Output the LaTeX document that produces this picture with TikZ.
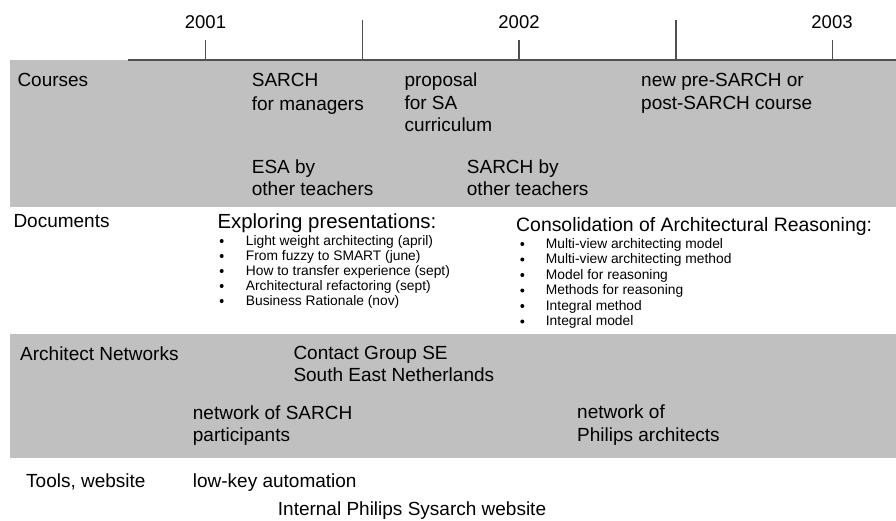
\documentclass[tikz,border=0pt]{standalone}
\usepackage{fontspec}
\setmainfont{Liberation Sans}
\usepackage{xcolor}
\usetikzlibrary{positioning}
\definecolor{lanegray}{HTML}{C0C0C0}
\definecolor{axisgray}{HTML}{505050}

\begin{document}
\begin{tikzpicture}[x=1pt, y=-1pt,
    axis/.style={draw=axisgray, line width=1.2pt},
    txt/.style={anchor=base west, inner sep=0pt, align=left, font=\fontsize{19}{22.5}\selectfont},
    head/.style={anchor=base west, inner sep=0pt, font=\fontsize{20.4}{24}\selectfont},
    item/.style={anchor=base west, inner sep=0pt, font=\fontsize{13.8}{15}\selectfont},
    year/.style={inner sep=0pt, font=\fontsize{18.5}{20}\selectfont}]
    \useasboundingbox (0,0) rectangle (896,520);

    % Lanes
    \fill[lanegray] (10,60) rectangle (896,206.7);
    \fill[lanegray] (10,334) rectangle (896,458);

    % Time axis
    \coordinate (tstart) at (127.7,60);
    \coordinate (tend) at (896,60);
    \draw[axis] (tstart) -- (tend);
    \foreach \x/\h in {205.7/40, 362.3/20, 519/40, 676/20, 832.3/40}
        \draw[axis] (\x,60) -- (\x,\h);
    \node[year] (y2001) at (205.5,21.7) {2001};
    \node[year] (y2002) at (519,21.7) {2002};
    \node[year] (y2003) at (832,21.7) {2003};

    % Courses (multi-line nodes sit on their last baseline)
    \node[txt] (courses) at (17.3,86.3) {Courses};
    \node[txt, font=\fontsize{19}{23.3}\selectfont] (mgr) at (251.7,110) {SARCH\\for managers};
    \node[txt, font=\fontsize{19}{22.4}\selectfont] (proposal) at (404.3,131.7) {proposal\\for SA\\curriculum};
    \node[txt, font=\fontsize{19}{23}\selectfont] (newcourse) at (641,109.3) {new pre-SARCH or\\post-SARCH course};
    \node[txt, font=\fontsize{19}{21.7}\selectfont] (esa) at (251.7,195) {ESA by\\other teachers};
    \node[txt, font=\fontsize{19}{21.7}\selectfont] (sarchby) at (466.7,195) {SARCH by\\other teachers};

    % Documents
    \node[txt] (docs) at (13.3,227.3) {Documents};
    \node[head] (explore) at (217.3,228.3) {Exploring presentations:};
    \foreach \t [count=\i] in {Light weight architecting (april), From fuzzy to SMART (june),
        How to transfer experience (sept), Architectural refactoring (sept), Business Rationale (nov)} {
        \node[item] (ex\i) at (245.7,{230+15*\i}) {\t};
        \fill (221.7,{226+15*\i}) circle (2);
    }
    \node[head, font=\fontsize{19.4}{24}\selectfont] (consol) at (516,231.7) {Consolidation of Architectural Reasoning:};
    \foreach \t [count=\i] in {Multi-view architecting model, Multi-view architecting method,
        Model for reasoning, Methods for reasoning, Integral method, Integral model} {
        \node[item] (co\i) at (545.7,{232.5+15.5*\i}) {\t};
        \fill (522.3,{228.5+15.5*\i}) circle (2);
    }

    % Architect Networks
    \node[txt] (networks) at (20,360) {Architect Networks};
    \node[txt, font=\fontsize{19}{21.5}\selectfont] (contact) at (293.3,381) {Contact Group SE\\South East Netherlands};
    \node[txt] (sarchnet) at (192.7,441.7) {network of SARCH\\participants};
    \node[txt, font=\fontsize{19}{23.4}\selectfont] (philipsnet) at (577,441.7) {network of\\Philips architects};

    % Tools, website
    \node[txt] (tools) at (26,487.3) {Tools, website};
    \node[txt] (lowkey) at (192.7,487.3) {low-key automation};
    \node[txt] (website) at (277.7,515.5) {Internal Philips Sysarch website};
\end{tikzpicture}
\end{document}
